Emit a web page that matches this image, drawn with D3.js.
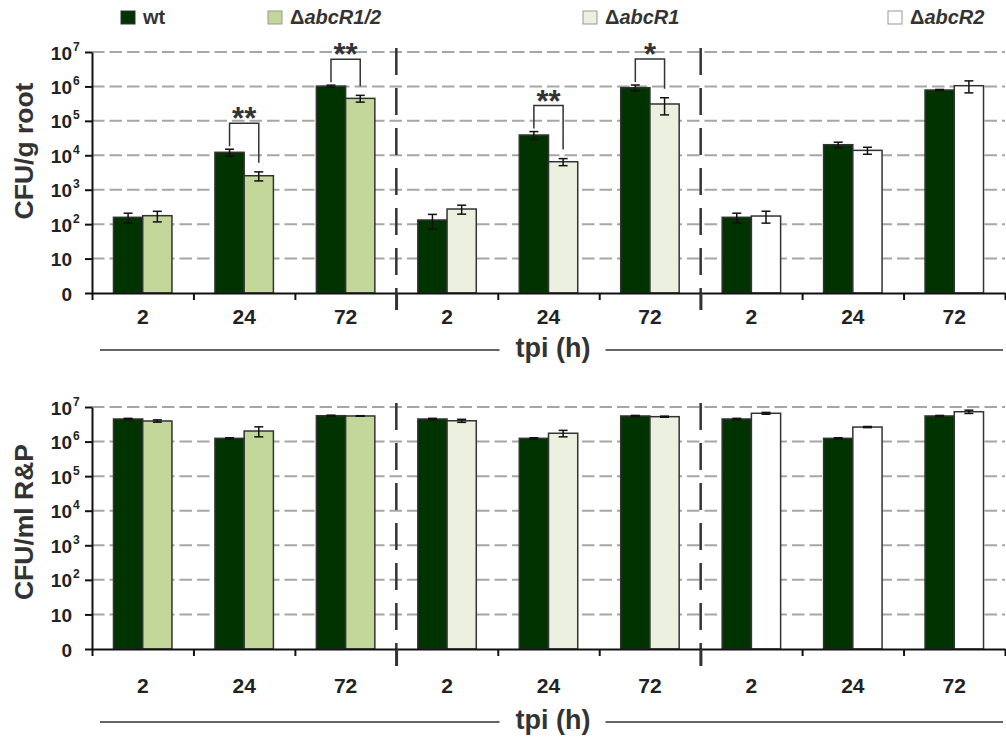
<!DOCTYPE html>
<html><head><meta charset="utf-8">
<script src="https://cdn.jsdelivr.net/npm/d3@7"></script>
<style>
body{margin:0;background:#fff;}
svg{display:block;font-family:"Liberation Sans",Arial,sans-serif;}
</style></head><body>
<svg id="chart" width="1006" height="737"></svg>
<script>
// Time points (h post inoculation), three blocks of wt vs. mutant
const timePoints = ["2", "24", "72", "2", "24", "72", "2", "24", "72"];
const strainNames = ["wt", "abcR1/2", "abcR1", "abcR2"];
const mutantOfGroup = [1, 1, 1, 2, 2, 2, 3, 3, 3];

// CFU per g root
const rootWt     = [158, 12200, 1.02e6, 132, 38800, 9.2e5, 158, 20300, 7.87e5];
const rootWtErr  = [50, 2800, 7e4, 60, 10000, 1.8e5, 50, 3700, 3e4];
const rootMut    = [176, 2550, 4.5e5, 275, 6500, 3.09e5, 172, 13900, 1.05e6];
const rootMutErr = [60, 750, 1e5, 80, 1500, 1.6e5, 65, 3200, 4e5];

// CFU per ml root & plant wash (R&P)
const rpWt     = [4.5e6, 1.24e6, 5.6e6, 4.5e6, 1.24e6, 5.5e6, 4.5e6, 1.24e6, 5.5e6];
const rpWtErr  = [2e5, 5e4, 2e5, 2e5, 5e4, 2e5, 2e5, 5e4, 2e5];
const rpMut    = [3.94e6, 2.02e6, 5.5e6, 4.0e6, 1.74e6, 5.25e6, 6.58e6, 2.63e6, 7.3e6];
const rpMutErr = [3e5, 6.5e5, 1e5, 4e5, 3.7e5, 2e5, 4e5, 1e5, 8e5];

const yTickValues = [1, 10, 1e2, 1e3, 1e4, 1e5, 1e6, 1e7];
const sigGroups = [1, 2, 4, 5];
const sigMarks = ["**", "**", "**", "*"];

const fills = ["#003300", "#c4d79b", "#ebf1de", "#ffffff"];
const legendStroke = ["#333", "#999", "#999", "#999"];

const svg = d3.select("#chart");

const xBand = d3.scaleBand().domain(d3.range(9)).range([92, 1005]);
const xEdge = d3.scaleLinear().domain([0, 9]).range([92, 1005]);
const xSub = d3.scaleBand().domain([0, 1]).range([0, xBand.bandwidth()]).paddingOuter(0.735);

const panels = [
  {wt: rootWt, wtErr: rootWtErr, mut: rootMut, mutErr: rootMutErr, title: "CFU/g root",
   top: 52, base: 293, titleY: 151, labelY: 324, tpiY: 357, sig: true},
  {wt: rpWt, wtErr: rpWtErr, mut: rpMut, mutErr: rpMutErr, title: "CFU/ml R&P",
   top: 407, base: 649, titleY: 522, labelY: 693, tpiY: 729, sig: false}
];

panels.forEach(p => {
  const y = d3.scaleLog().domain([1, 1e7]).range([p.base, p.top]);
  const g = svg.append("g");

  // dashed horizontal gridlines
  g.append("g").selectAll("line").data(yTickValues.slice(1)).join("line")
    .attr("x1", xEdge(0)).attr("x2", xEdge(9))
    .attr("y1", d => y(d)).attr("y2", d => y(d))
    .attr("stroke", "#a6a6a6").attr("stroke-width", 2).attr("stroke-dasharray", "12.5,5");

  // block dividers
  g.append("g").selectAll("line").data([3, 6]).join("line")
    .attr("x1", d => xEdge(d)).attr("x2", d => xEdge(d))
    .attr("y1", y(1e7) - 4).attr("y2", p.base + 17)
    .attr("stroke", "#333").attr("stroke-width", 2.5).attr("stroke-dasharray", "27,13");

  // bars
  const rows = [];
  d3.range(9).forEach(i => {
    rows.push({i, s: 0, v: p.wt[i], e: p.wtErr[i], fill: fills[0]});
    rows.push({i, s: 1, v: p.mut[i], e: p.mutErr[i], fill: fills[mutantOfGroup[i]]});
  });
  const cx = d => xBand(d.i) + xSub(d.s) + xSub.bandwidth() / 2;

  g.append("g").selectAll("rect").data(rows).join("rect")
    .attr("x", d => xBand(d.i) + xSub(d.s))
    .attr("width", xSub.bandwidth())
    .attr("y", d => y(d.v))
    .attr("height", d => y(1) - y(d.v))
    .attr("fill", d => d.fill)
    .attr("stroke", "#333").attr("stroke-width", 1.5);

  // error bars
  const eb = g.append("g").attr("stroke", "#111").attr("stroke-width", 1.5);
  eb.selectAll("line.v").data(rows).join("line").attr("class", "v")
    .attr("x1", cx).attr("x2", cx)
    .attr("y1", d => y(d.v + d.e)).attr("y2", d => y(Math.max(d.v - d.e, 1)));
  eb.selectAll("line.t").data(rows).join("line").attr("class", "t")
    .attr("x1", d => cx(d) - 4.5).attr("x2", d => cx(d) + 4.5)
    .attr("y1", d => y(d.v + d.e)).attr("y2", d => y(d.v + d.e));
  eb.selectAll("line.b").data(rows).join("line").attr("class", "b")
    .attr("x1", d => cx(d) - 4.5).attr("x2", d => cx(d) + 4.5)
    .attr("y1", d => y(Math.max(d.v - d.e, 1))).attr("y2", d => y(Math.max(d.v - d.e, 1)));

  // significance brackets
  if (p.sig) {
    sigGroups.forEach((gi, k) => {
      const xl = cx({i: gi, s: 0}), xr = cx({i: gi, s: 1});
      const tl = y(p.wt[gi] + p.wtErr[gi]), tr = y(p.mut[gi] + p.mutErr[gi]);
      const by = Math.min(tl, tr) - 26;
      g.append("path")
        .attr("d", `M${xl},${tl - 3}V${by}H${xr}V${tr - 9}`)
        .attr("fill", "none").attr("stroke", "#333").attr("stroke-width", 1.5);
      g.append("text").attr("x", (xl + xr) / 2).attr("y", by + 6)
        .attr("text-anchor", "middle").attr("font-size", 31).attr("font-weight", "bold")
        .attr("fill", "#333").text(sigMarks[k]);
    });
  }

  // y axis
  const ya = g.append("g").attr("transform", `translate(${xEdge(0)},0)`)
    .call(d3.axisLeft(y).tickValues(yTickValues).tickSize(7).tickSizeOuter(0).tickFormat(""));
  ya.attr("font-size", null).attr("font-family", null);
  ya.select(".domain").attr("stroke", "#111").attr("stroke-width", 2);
  ya.selectAll(".tick line").attr("stroke", "#111").attr("stroke-width", 2);
  ya.selectAll(".tick text").remove();
  ya.selectAll(".tick").each(function(d) {
    const t = d3.select(this);
    const exp = Math.round(Math.log10(d));
    t.append("text").attr("x", -20).attr("y", 7).attr("text-anchor", "end")
      .attr("font-size", 19).attr("font-weight", "bold").attr("fill", "#222")
      .text(exp === 0 ? "0" : "10");
    if (exp >= 2) {
      t.append("text").attr("x", -19).attr("y", -2).attr("text-anchor", "start")
        .attr("font-size", 12).attr("font-weight", "bold").attr("fill", "#222")
        .text(exp);
    }
  });

  // x axis: boundary ticks
  const xa = g.append("g").attr("transform", `translate(0,${p.base})`)
    .call(d3.axisBottom(xEdge).tickValues(d3.range(10)).tickSize(7).tickSizeOuter(0).tickFormat(""));
  xa.select(".domain").attr("stroke", "#111").attr("stroke-width", 2);
  xa.selectAll(".tick line").attr("stroke", "#111").attr("stroke-width", 2)
    .filter(d => d === 3 || d === 6).attr("y2", 17).attr("stroke", "#333").attr("stroke-width", 2.5);

  // x axis: time labels
  const xl = g.append("g").attr("transform", `translate(0,${p.base})`)
    .call(d3.axisBottom(xBand).tickSize(0).tickFormat(i => timePoints[i]));
  xl.select(".domain").remove();
  xl.attr("font-size", null).attr("font-family", null);
  xl.selectAll(".tick text").attr("y", p.labelY - p.base).attr("dy", null)
    .attr("font-size", 21).attr("font-weight", "bold").attr("fill", "#222");

  // y title
  svg.append("text").attr("transform", `translate(33,${p.titleY}) rotate(-90)`)
    .attr("text-anchor", "middle").attr("font-size", 26.5).attr("font-weight", "bold")
    .attr("fill", "#333").text(p.title);

  // tpi (h) with flanking rule
  const tpi = svg.append("text").attr("x", 553).attr("y", p.tpiY).attr("text-anchor", "middle")
    .attr("font-size", 27).attr("font-weight", "bold").attr("fill", "#333").text("tpi (h)");
  const bb = tpi.node().getBBox();
  svg.append("line").attr("x1", 100).attr("x2", bb.x - 16).attr("y1", p.tpiY - 7).attr("y2", p.tpiY - 7)
    .attr("stroke", "#333").attr("stroke-width", 1.5);
  svg.append("line").attr("x1", bb.x + bb.width + 15).attr("x2", 1003).attr("y1", p.tpiY - 7).attr("y2", p.tpiY - 7)
    .attr("stroke", "#333").attr("stroke-width", 1.5);
});

// legend
const legendX = [121, 268, 583, 888];
const lg = svg.append("g").selectAll("g").data(strainNames).join("g")
  .attr("transform", (d, i) => `translate(${legendX[i]},11)`);
lg.append("rect").attr("width", 14).attr("height", 13)
  .attr("fill", (d, i) => fills[i]).attr("stroke", (d, i) => legendStroke[i]).attr("stroke-width", 1);
lg.each(function(d, i) {
  const t = d3.select(this).append("text").attr("x", 22).attr("y", 13)
    .attr("font-size", 20).attr("font-weight", "bold").attr("fill", "#333");
  if (i === 0) {
    t.text(d);
  } else {
    t.append("tspan").text("Δ");
    t.append("tspan").attr("font-style", "italic").text(d);
  }
});
</script>
</body></html>
